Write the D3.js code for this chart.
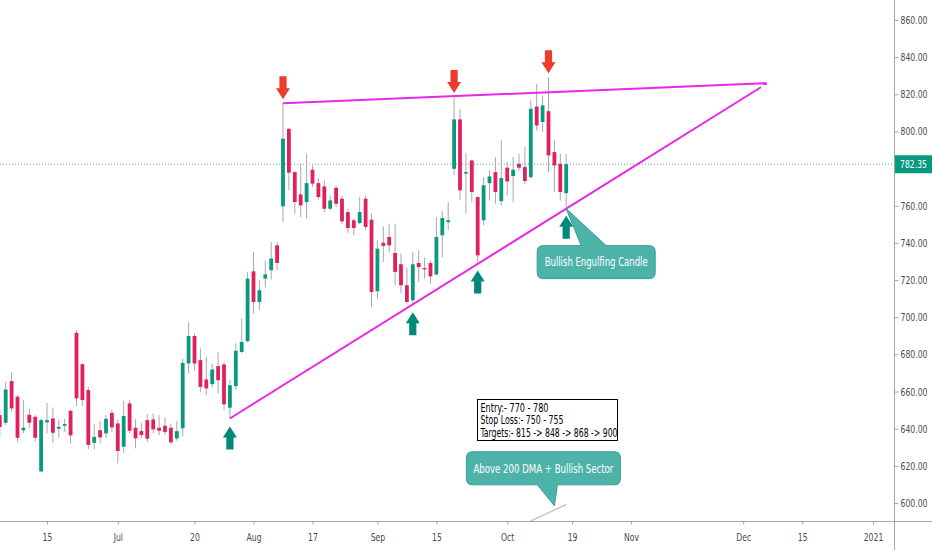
<!DOCTYPE html>
<html>
<head>
<meta charset="utf-8">
<script src="https://cdn.jsdelivr.net/npm/d3@7"></script>
<style>
  body { margin: 0; background: #fff; }
  svg { display: block; }
  text { font-family: "Liberation Sans Narrow", "DejaVu Sans Condensed", "Liberation Sans", sans-serif; }
</style>
</head>
<body>
<div id="chart"></div>
<script>
// trading calendar (NSE), daily candles from 3 Jun 2020
const startDate = "2020-06-03";
const endDate = "2021-01-15";
const holidays = ["2020-10-02", "2020-11-16", "2020-11-30", "2020-12-25"];

const opens = [647.3, 643.2, 665.6, 657.2, 639.1, 647.5, 646.4, 617.0, 643.4, 645.5,
  640.0, 641.6, 649.6, 691.6, 674.7, 660.8, 632.4, 639.2, 637.5, 648.5,
  642.8, 630.3, 653.6, 640.5, 638.7, 644.6, 645.0, 640.5, 641.6, 640.5,
  634.8, 640.2, 675.1, 689.9, 676.9, 666.5, 664.0, 673.7, 674.6, 651.3,
  662.9, 681.3, 687.1, 724.7, 708.2, 720.8, 725.3, 738.7, 759.7, 801.4,
  778.1, 766.1, 762.0, 779.4, 772.2, 770.4, 758.4, 769.7, 763.8, 756.6,
  752.2, 750.7, 763.8, 752.5, 714.0, 740.1, 743.2, 734.6, 728.5, 717.2,
  709.1, 729.2, 726.5, 729.2, 723.0, 744.1, 751.2, 779.9, 806.5, 777.3,
  784.4, 764.7, 752.2, 772.2, 778.1, 762.5, 780.5, 776.0, 782.6, 780.8,
  775.4, 813.4, 805.1, 810.9, 788.9, 782.6, 766.8];
const highs = [650.5, 665.2, 670.3, 658.1, 655.4, 650.9, 647.3, 645.6, 653.9, 651.4,
  644.6, 645.3, 650.4, 693.0, 675.1, 662.5, 642.3, 644.1, 647.3, 650.0,
  645.0, 655.0, 655.4, 645.0, 643.2, 647.8, 648.2, 647.3, 646.1, 642.8,
  644.2, 677.8, 697.5, 691.2, 683.2, 678.7, 675.1, 681.3, 676.0, 666.1,
  685.9, 699.3, 724.4, 735.1, 719.9, 730.6, 740.5, 740.5, 815.2, 801.8,
  778.5, 782.6, 788.0, 781.7, 774.6, 773.7, 765.6, 771.0, 765.6, 758.4,
  753.1, 764.7, 765.6, 755.7, 741.4, 748.9, 750.4, 750.4, 734.2, 726.7,
  735.1, 736.0, 732.1, 730.6, 753.9, 757.0, 762.0, 818.5, 812.2, 788.3,
  784.8, 765.0, 775.4, 779.0, 786.2, 795.2, 783.5, 786.2, 788.0, 791.6,
  816.7, 825.6, 819.4, 829.2, 795.2, 788.0, 788.0];
const lows = [635.6, 641.9, 649.1, 633.0, 637.5, 640.2, 633.0, 616.5, 637.5, 632.4,
  635.3, 638.3, 632.1, 652.2, 652.2, 628.8, 628.8, 632.1, 634.8, 638.3,
  621.3, 627.0, 637.5, 629.4, 634.8, 632.8, 637.5, 636.6, 636.6, 631.7,
  633.5, 636.0, 669.7, 671.5, 659.8, 658.1, 662.2, 659.0, 650.0, 645.5,
  661.0, 680.5, 686.5, 702.0, 703.8, 716.0, 720.3, 725.3, 751.2, 768.3,
  755.7, 753.9, 753.1, 770.1, 762.9, 756.6, 757.5, 759.3, 750.0, 745.3,
  744.1, 750.0, 746.8, 705.5, 710.1, 729.7, 735.1, 717.2, 712.7, 707.4,
  707.0, 719.0, 720.8, 718.1, 722.6, 732.4, 746.8, 776.3, 762.9, 755.7,
  762.0, 729.5, 749.5, 762.9, 761.1, 760.2, 765.6, 762.0, 778.7, 771.5,
  774.6, 800.5, 799.6, 778.1, 767.4, 762.9, 759.0];
const closes = [640.9, 661.1, 650.9, 635.1, 640.5, 643.2, 635.1, 644.6, 644.6, 637.8,
  641.0, 642.5, 636.4, 656.3, 655.4, 631.2, 635.6, 635.3, 645.3, 640.7,
  628.0, 646.8, 638.9, 634.8, 636.6, 634.6, 639.6, 638.9, 638.3, 632.6,
  638.7, 675.4, 689.9, 675.1, 662.5, 661.7, 671.9, 666.1, 653.1, 663.4,
  681.9, 686.7, 720.8, 708.2, 714.5, 723.1, 731.6, 729.2, 796.1, 777.8,
  762.0, 760.2, 772.2, 771.9, 764.7, 758.4, 762.9, 761.1, 751.6, 748.0,
  748.0, 756.6, 748.6, 713.6, 736.9, 738.4, 738.7, 724.4, 717.2, 708.2,
  728.5, 727.0, 725.8, 722.0, 743.2, 753.4, 752.2, 806.5, 768.3, 778.1,
  767.4, 733.3, 771.0, 775.8, 767.4, 774.9, 773.1, 779.4, 780.5, 773.3,
  812.2, 803.2, 814.0, 787.1, 781.7, 767.4, 782.35];

const lastPrice = 782.35;
const priceTicks = [600, 620, 640, 660, 680, 700, 720, 740, 760, 800, 820, 840, 860];
const dateTicks = ["2020-06-15", "2020-07-01", "2020-07-20", "2020-08-03", "2020-08-17", "2020-09-01",
  "2020-09-15", "2020-10-01", "2020-10-19", "2020-11-02", "2020-12-01", "2020-12-15", "2021-01-01"];
const dateLabels = ["15", "Jul", "20", "Aug", "17", "Sep", "15", "Oct", "19", "Nov", "Dec", "15", "2021"];

// drawings: [date, price]
const upperTrend = [["2020-08-10", 815.2], ["2020-12-07", 826.0]];
const lowerTrend = [["2020-07-28", 645.5], ["2020-12-04", 823.8]];
const dmaLine = [["2020-10-08", 590.3], ["2020-10-16", 599.2]];
const downArrows = ["2020-08-10", "2020-09-18", "2020-10-13"];
const upArrows = ["2020-07-28", "2020-09-09", "2020-09-24", "2020-10-16"];
const tradeLines = ["Entry:- 770 - 780", "Stop Loss:- 750 - 755", "Targets:- 815 -> 848 -> 868 -> 900"];

const W = 932, H = 550, plotW = 894, plotH = 521;
const green = "#089981", red = "#e2205d";
const squeeze = 0.78;

// build trading days
const fmt = d3.timeFormat("%Y-%m-%d");
const days = d3.timeDay.range(d3.timeParse("%Y-%m-%d")(startDate), d3.timeParse("%Y-%m-%d")(endDate))
  .filter(d => d.getDay() !== 0 && d.getDay() !== 6 && !holidays.includes(fmt(d)))
  .map(fmt);
const idx = s => days.indexOf(s);

const candles = opens.map((o, i) => ({ i, o, h: highs[i], l: lows[i], c: closes[i] }));

const x = d3.scaleLinear().domain([0, 150]).range([-0.2, -0.2 + 150 * 5.9]);
const y = d3.scaleLinear().domain([600, 860]).range([503, 20]);

const svg = d3.select("#chart").append("svg")
  .attr("width", W)
  .attr("height", H);

svg.append("defs").append("clipPath").attr("id", "plot")
  .append("rect").attr("width", plotW).attr("height", plotH);

const plot = svg.append("g").attr("clip-path", "url(#plot)");

// last price dotted line
plot.append("line")
  .attr("x1", 0).attr("x2", plotW)
  .attr("y1", y(lastPrice)).attr("y2", y(lastPrice))
  .attr("stroke", green).attr("stroke-opacity", 0.7)
  .attr("stroke-dasharray", "1,2");

// wicks
plot.selectAll(".wick")
  .data(candles)
  .enter()
  .append("line")
  .attr("class", "wick")
  .attr("x1", d => x(d.i)).attr("x2", d => x(d.i))
  .attr("y1", d => y(d.h)).attr("y2", d => y(d.l))
  .attr("stroke", "#a8a8a8")
  .attr("stroke-width", 1);

// bodies
plot.selectAll(".body")
  .data(candles)
  .enter()
  .append("rect")
  .attr("class", "body")
  .attr("x", d => x(d.i) - 1.9)
  .attr("width", 3.8)
  .attr("y", d => y(Math.max(d.o, d.c)))
  .attr("height", d => Math.max(1.2, Math.abs(y(d.o) - y(d.c))))
  .attr("fill", d => d.c >= d.o ? green : red);

// trend lines
const pt = p => [x(idx(p[0])), y(p[1])];
[upperTrend, lowerTrend].forEach(t => {
  plot.append("line")
    .attr("x1", pt(t[0])[0]).attr("y1", pt(t[0])[1])
    .attr("x2", pt(t[1])[0]).attr("y2", pt(t[1])[1])
    .attr("stroke", "#e529e5")
    .attr("stroke-width", 2);
});

plot.append("line")
  .attr("x1", pt(dmaLine[0])[0]).attr("y1", pt(dmaLine[0])[1])
  .attr("x2", pt(dmaLine[1])[0]).attr("y2", pt(dmaLine[1])[1])
  .attr("stroke", "#c8c8c8")
  .attr("stroke-width", 1.5);

// arrows
function arrowPath(cx, tip, dir) {
  // dir = 1 points down, -1 points up
  const hw = 7, sw = 3.6, hh = 11, len = 23;
  const b = tip - dir * hh, e = tip - dir * len;
  return `M${cx},${tip} L${cx - hw},${b} L${cx - sw},${b} L${cx - sw},${e} L${cx + sw},${e} L${cx + sw},${b} L${cx + hw},${b} Z`;
}
downArrows.forEach(s => {
  const c = candles[idx(s)];
  plot.append("path").attr("d", arrowPath(x(c.i), y(c.h) - 4, 1)).attr("fill", "#ee3b2e");
});
upArrows.forEach(s => {
  const c = candles[idx(s)];
  plot.append("path").attr("d", arrowPath(x(c.i), y(c.l) + 8, -1)).attr("fill", "#00897b");
});

// callouts
function callout(bx, by, bw, bh, r, tx, ty, b1, b2, top) {
  const R = bx + bw, B = by + bh;
  if (top) {
    return `M${bx + r},${by} L${b1},${by} L${tx},${ty} L${b2},${by} L${R - r},${by} Q${R},${by} ${R},${by + r} ` +
      `L${R},${B - r} Q${R},${B} ${R - r},${B} L${bx + r},${B} Q${bx},${B} ${bx},${B - r} L${bx},${by + r} Q${bx},${by} ${bx + r},${by} Z`;
  }
  return `M${bx + r},${by} L${R - r},${by} Q${R},${by} ${R},${by + r} L${R},${B - r} Q${R},${B} ${R - r},${B} ` +
    `L${b2},${B} L${tx},${ty} L${b1},${B} L${bx + r},${B} Q${bx},${B} ${bx},${B - r} L${bx},${by + r} Q${bx},${by} ${bx + r},${by} Z`;
}

const eng = candles[idx("2020-10-16")];
const ex = x(eng.i), ey = y(eng.l);
svg.append("path")
  .attr("d", callout(ex - 29, ey + 38, 118, 33, 6, ex, ey + 1, ex + 15, ex + 40, true))
  .attr("fill", "#4db3a8").attr("stroke", "#33a195").attr("stroke-width", 1);
svg.append("text")
  .attr("x", ex + 30).attr("y", ey + 58)
  .attr("text-anchor", "middle")
  .attr("fill", "#fff").attr("font-size", 12)
  .attr("textLength", 103).attr("lengthAdjust", "spacingAndGlyphs")
  .text("Bullish Engulfing Candle");

const dx = x(idx("2020-10-14")), dy = y(598.5);
svg.append("path")
  .attr("d", callout(dx - 88, dy - 54, 154, 33, 6, dx, dy, dx - 17, dx + 3, false))
  .attr("fill", "#4db3a8").attr("stroke", "#33a195").attr("stroke-width", 1);
svg.append("text")
  .attr("x", dx - 11).attr("y", dy - 33)
  .attr("text-anchor", "middle")
  .attr("fill", "#fff").attr("font-size", 12)
  .attr("textLength", 140).attr("lengthAdjust", "spacingAndGlyphs")
  .text("Above 200 DMA + Bullish Sector");

// trade plan box
const tb = svg.append("g").attr("transform", "translate(477.5,399.5)");
tb.append("rect").attr("width", 140).attr("height", 41)
  .attr("fill", "#fff").attr("stroke", "#000").attr("stroke-width", 1);
const tlen = [68, 83, 137];
tb.selectAll("text")
  .data(tradeLines)
  .enter()
  .append("text")
  .attr("x", 3)
  .attr("y", (d, i) => 12 + i * 12.5)
  .attr("font-size", 11.5)
  .attr("fill", "#000")
  .attr("textLength", (d, i) => tlen[i]).attr("lengthAdjust", "spacingAndGlyphs")
  .text(d => d);

// axes
svg.append("line").attr("x1", 0).attr("x2", W).attr("y1", plotH + 0.5).attr("y2", plotH + 0.5)
  .attr("stroke", "#a3a6af");
svg.append("line").attr("x1", plotW + 0.5).attr("x2", plotW + 0.5).attr("y1", 0).attr("y2", H)
  .attr("stroke", "#a3a6af");

const yAxis = svg.append("g")
  .attr("transform", `translate(${plotW + 0.5},0)`)
  .call(d3.axisRight(y).tickValues(priceTicks).tickSize(4).tickPadding(2).tickFormat(d3.format(".2f")));
const xAxis = svg.append("g")
  .attr("transform", `translate(0,${plotH + 0.5})`)
  .call(d3.axisBottom(x).tickValues(dateTicks.map(idx)).tickSize(3).tickPadding(9)
    .tickFormat((d, i) => dateLabels[i]));
[yAxis, xAxis].forEach(a => {
  a.select(".domain").remove();
  a.selectAll("line").attr("stroke", "#a3a6af");
  a.selectAll("text").attr("fill", "#4a4a4a").attr("font-size", 11);
});
// narrow look of the original labels
yAxis.selectAll("text").attr("x", 6 / squeeze).attr("transform", `scale(${squeeze},1)`);
xAxis.selectAll("text").attr("transform", `scale(${squeeze},1)`);

// last price label
svg.append("rect")
  .attr("x", plotW + 1).attr("y", y(lastPrice) - 9)
  .attr("width", W - plotW - 1).attr("height", 18)
  .attr("fill", green);
svg.append("text")
  .attr("transform", `translate(${plotW + 6},${y(lastPrice) + 4}) scale(${squeeze},1)`)
  .attr("fill", "#fff").attr("font-size", 11)
  .text(lastPrice.toFixed(2));
</script>
</body>
</html>
